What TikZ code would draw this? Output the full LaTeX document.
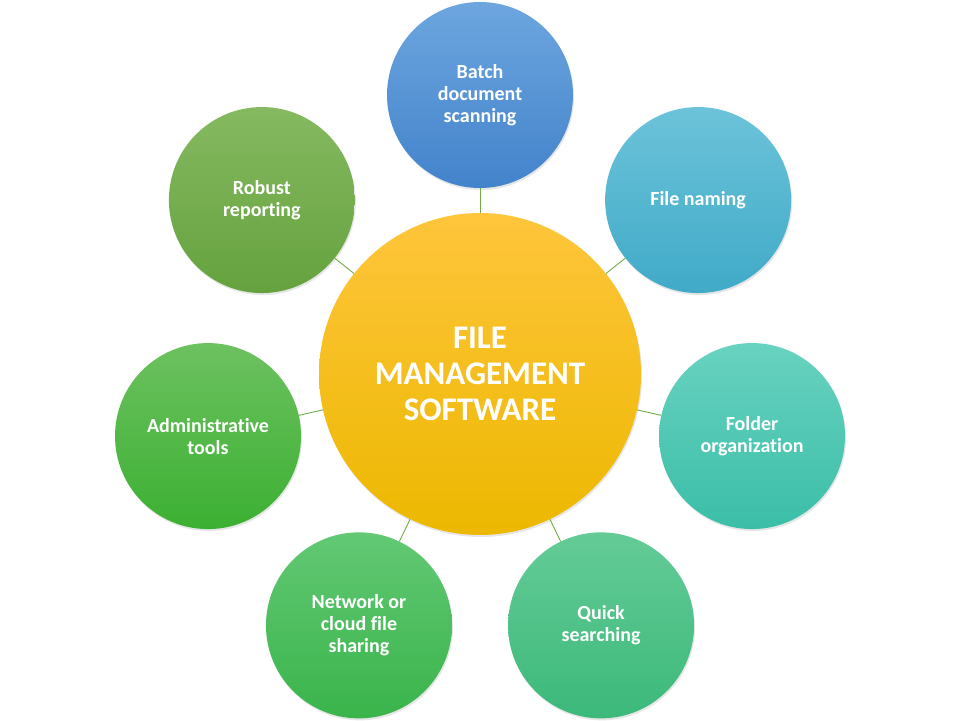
\documentclass[tikz,border=0pt]{standalone}
\usepackage{fontspec}
\setmainfont{Carlito}[RawFeature={-liga;-clig;-calt;-dlig;-rlig}]
\usetikzlibrary{calc}
\usetikzlibrary{shadows}

\definecolor{hubTop}{HTML}{FFC53C}
\definecolor{hubBot}{HTML}{ECB800}
\definecolor{batchTop}{HTML}{6DA6DF}
\definecolor{batchBot}{HTML}{4383CB}
\definecolor{namingTop}{HTML}{6CC3D9}
\definecolor{namingBot}{HTML}{40AAC8}
\definecolor{folderTop}{HTML}{68D2C0}
\definecolor{folderBot}{HTML}{3BBEA8}
\definecolor{quickTop}{HTML}{64CB97}
\definecolor{quickBot}{HTML}{3CB97A}
\definecolor{networkTop}{HTML}{62C874}
\definecolor{networkBot}{HTML}{3AB44B}
\definecolor{adminTop}{HTML}{6DC160}
\definecolor{adminBot}{HTML}{3BB032}
\definecolor{robustTop}{HTML}{86B961}
\definecolor{robustBot}{HTML}{65A23E}
\definecolor{linkGreen}{HTML}{70AD47}

\begin{document}
\begin{tikzpicture}[
  hub/.style={circle, minimum size=322pt, inner sep=0pt, align=center,
    top color=hubTop, bottom color=hubBot, text=white,
    font=\fontsize{33}{36}\selectfont\bfseries,
    drop shadow={shadow xshift=1pt, shadow yshift=-2pt, opacity=0.2}},
  leaf/.style={circle, minimum size=186pt, inner sep=0pt, align=center,
    text=white, font=\fontsize{20}{22}\selectfont\bfseries,
    drop shadow={shadow xshift=1pt, shadow yshift=-2pt, opacity=0.2}},
  link/.style={draw=linkGreen, line width=0.9pt}
]
\useasboundingbox (0,0) rectangle (960pt,720pt);
\node[hub] (hub) at (480pt,346pt) {FILE\\MANAGEMENT\\SOFTWARE};
% seven satellites, clockwise from the top
\foreach \i/\name/\txt/\ct/\cb in {
    0/batch/{Batch\\document\\scanning}/batchTop/batchBot,
    1/naming/{File naming}/namingTop/namingBot,
    2/folder/{Folder\\organization}/folderTop/folderBot,
    3/quick/{Quick\\searching}/quickTop/quickBot,
    4/network/{Network or\\cloud file\\sharing}/networkTop/networkBot,
    5/admin/{Administrative\\tools}/adminTop/adminBot,
    6/robust/{Robust\\reporting}/robustTop/robustBot} {
  \node[leaf, top color=\ct, bottom color=\cb] (\name)
    at ($(hub)+(90-\i*360/7:279pt)$) {\txt};
  \draw[link] (hub) -- (\name);
}
\end{tikzpicture}
\end{document}
